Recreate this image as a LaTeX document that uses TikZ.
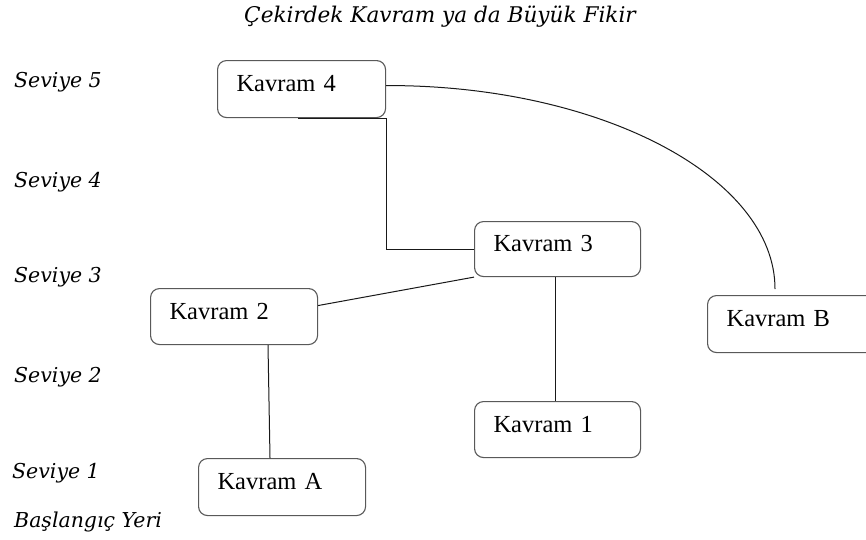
\documentclass[tikz,border=0pt]{standalone}
\usepackage{fontspec}
\setmainfont{Liberation Serif}
\newfontfamily\lblfont{DejaVu Serif}
\begin{document}
\begin{tikzpicture}[x=1pt,y=-1pt,
  box/.style={draw=black!65, line width=1.1pt, rounded corners=9pt, inner xsep=19pt, inner ysep=0pt,
    align=left, text height=16pt, text depth=11pt, font=\fontsize{24.5}{27}\selectfont, anchor=north west},
  conn/.style={draw=black!90, line width=1pt},
  lbl/.style={font=\lblfont\itshape\fontsize{20.5}{24}\selectfont, anchor=base west, inner sep=0pt}]
\useasboundingbox (0,0) rectangle (866,539);
\clip (0,0) rectangle (866,539);
% title and levels
\node[lbl, anchor=base, font=\lblfont\itshape\fontsize{21.6}{25}\selectfont] (title) at (440,22) {Çekirdek Kavram ya da Büyük Fikir};
\node[lbl] (s5) at (14,87) {Seviye 5};
\node[lbl] (s4) at (14,187) {Seviye 4};
\node[lbl] (s3) at (14,282) {Seviye 3};
\node[lbl] (s2) at (14,382) {Seviye 2};
\node[lbl] (s1) at (12,478) {Seviye 1};
\node[lbl] (bas) at (14,527) {Başlangıç Yeri};
% boxes
\node[box, minimum width=168pt, minimum height=57pt, text width=130pt] (k4) at (217,60) {Kavram 4};
\node[box, minimum width=166pt, minimum height=55pt, text width=128pt] (k3) at (474,221) {Kavram 3};
\node[box, minimum width=167pt, minimum height=56pt, text width=129pt] (k2) at (150,288) {Kavram 2};
\node[box, minimum width=170pt, minimum height=57pt, text width=132pt] (kb) at (707,295) {Kavram B};
\node[box, minimum width=166pt, minimum height=56pt, text width=128pt] (k1) at (474,401) {Kavram 1};
\node[box, minimum width=167pt, minimum height=57pt, text width=129pt] (ka) at (198,458) {Kavram A};
% connectors
\coordinate (k4b) at ([xshift=-88pt]k4.south east);
\draw[conn] (k4b) -- (k4.south east) |- (k3.west);
\coordinate (k4r) at ([yshift=3.5pt]k4.east);
\coordinate (kbt) at ([yshift=6pt]kb.north -| 775,0);
\draw[conn] (k4r) .. controls (600,85) and (775,177) .. (kbt);
\draw[conn] (k3.south west) -- ([yshift=11pt]k2.east);
\draw[conn] (k3.south -| 555,0) -- (k1.north -| 555,0);
\draw[conn] (k2.south -| 268,0) -- (ka.north -| 270,0);
\end{tikzpicture}
\end{document}
